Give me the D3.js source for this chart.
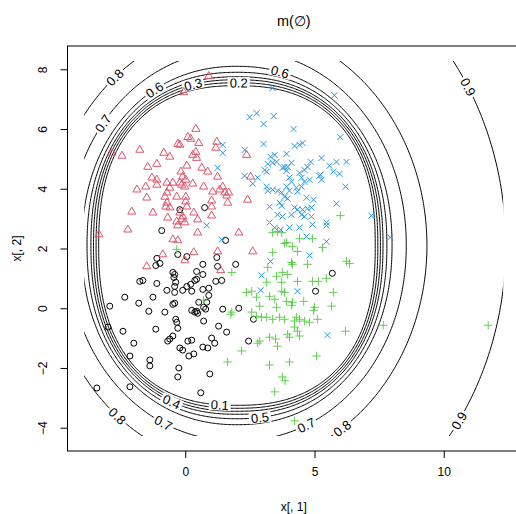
<!DOCTYPE html>
<html><head><meta charset="utf-8">
<script src="https://cdnjs.cloudflare.com/ajax/libs/d3/7.8.5/d3.min.js"></script>
<style>body{margin:0;background:#fff}svg{display:block}text{font-family:"Liberation Sans",Arial,sans-serif;fill:#000}</style>
</head><body><svg id="c" width="516" height="514"></svg>
<script>
// ---------- data ----------
const titleText = "m(\u2205)";
const xLabel = "x[, 1]";
const yLabel = "x[, 2]";
const xTicks = [0, 5, 10];
const yTicks = [-4, -2, 0, 2, 4, 6, 8];
const xLim = [-4.556, 12.95];
const yLim = [-4.78, 8.78];
const gridX = [-3.908, 12.30];
const gridY = [-4.278, 8.278];

const contourLevels = [0.1, 0.2, 0.3, 0.4, 0.5, 0.6, 0.7, 0.8, 0.9];
const contourCenter = [2.0, 2.1];
const contourHalfWidth = [5.35, 5.45, 5.55, 5.65, 5.8, 6.0, 6.55, 7.35, 10.4];
const contourShape = [2.4, 2.36, 2.32, 2.28, 2.22, 2.14, 2.05, 2.0, 2.0];
const contourLabelAngles = [[262.9], [89.3], [107.5], [244.2], [278.8], [121.5, 74], [141.7, 244.4, 294], [130, 231, 303.6], [30.7, 325.7]];

const blackPts = [[0.75,3.37],[-0.91,2.60],[1.56,2.27],[-0.21,3.30],[-0.29,1.80],[0.06,1.73],[1.22,1.70],[0.68,1.47],[-1.10,1.67],[-0.98,1.50],[-1.14,1.43],[1.95,1.47],[1.25,1.40],[-0.48,1.20],[-0.41,1.13],[-0.44,1.03],[-0.37,0.87],[-0.41,0.73],[0.44,1.23],[0.44,0.97],[0.37,0.93],[0.68,1.13],[1.18,0.90],[1.41,0.93],[-1.76,0.90],[-1.64,0.93],[-1.10,0.83],[0.06,0.73],[0.21,0.80],[-0.10,0.60],[0.25,0.57],[0.68,0.63],[0.91,0.67],[-0.71,0.60],[-0.41,0.53],[-2.34,0.37],[-1.25,0.37],[0.91,0.43],[-2.92,0.07],[-1.80,0.17],[-0.48,0.13],[-0.41,0.17],[0.52,0.20],[0.83,0.20],[-1.41,-0.10],[-0.79,-0.13],[0.25,-0.07],[0.37,-0.13],[0.44,-0.10],[0.48,-0.17],[0.71,0.03],[0.79,-0.03],[1.45,-0.03],[2.07,0.00],[-0.37,-0.37],[-0.33,-0.47],[0.71,-0.43],[2.64,-0.37],[-2.99,-0.63],[-2.41,-0.77],[-1.14,-0.70],[-0.29,-0.67],[1.29,-0.60],[1.60,-0.80],[-0.60,-1.03],[-0.48,-0.93],[-0.68,-1.10],[0.10,-1.10],[0.25,-1.07],[1.02,-1.00],[1.14,-1.17],[2.45,-1.10],[-1.99,-1.17],[-0.21,-1.33],[-0.10,-1.40],[0.68,-1.30],[0.87,-1.33],[0.14,-1.60],[0.33,-1.53],[-2.14,-1.60],[-1.37,-1.73],[-1.37,-1.93],[-0.25,-2.00],[-0.29,-2.30],[0.95,-2.20],[-3.42,-2.67],[-2.14,-2.63],[0.60,-2.83],[5.69,1.17],[5.04,0.57]];

const redPts = [[0.91,7.77],[-0.06,7.23],[0.41,6.0],[0.10,5.73],[0.21,5.67],[0.52,5.53],[-0.29,5.5],[-0.21,5.47],[-1.76,5.3],[1.22,5.57],[1.18,5.37],[-0.83,5.2],[-0.60,5.07],[-2.84,5.2],[-2.45,5.1],[0.41,5.23],[0.29,5.13],[0.44,5.03],[2.37,5.13],[-1.45,4.73],[-1.10,4.83],[0.06,4.77],[0.64,4.7],[-0.17,4.57],[0.87,4.57],[1.25,4.4],[2.53,4.4],[-1.29,4.37],[-1.10,4.3],[-1.10,4.13],[-0.10,4.4],[0.02,4.3],[-0.14,4.13],[-0.02,4.07],[-0.21,4.2],[0.29,4.17],[-1.87,3.97],[-1.53,4.07],[-0.71,4.2],[-0.48,4.2],[-0.60,4.03],[-0.71,3.87],[0.71,4.07],[1.45,4.07],[1.33,3.97],[1.53,3.87],[1.68,3.87],[1.60,3.77],[1.06,3.9],[-1.49,3.7],[-0.79,3.73],[-0.33,3.73],[0.02,3.73],[0.02,3.57],[1.02,3.6],[1.64,3.53],[2.41,3.63],[-0.71,3.53],[-0.60,3.37],[-0.75,3.4],[0.06,3.4],[1.02,3.4],[-2.07,3.23],[-1.25,3.2],[0.33,3.2],[-0.68,3.03],[-0.21,3.2],[-0.10,3.07],[-0.33,2.9],[-0.14,2.97],[-0.02,2.87],[0.48,2.97],[1.02,3.1],[-2.22,2.63],[-3.34,2.47],[-0.29,2.77],[0.48,2.53],[2.07,2.53],[-0.48,2.3],[-0.29,2.27],[-0.87,1.8],[0.33,1.87],[1.25,1.9],[2.61,1.9],[-1.49,1.4],[-0.02,1.6],[1.37,1.27]];

const greenPts = [[6.0,3.1],[4.42,2.33],[4.92,2.33],[5.31,2.03],[3.84,2.17],[4.15,2.07],[4.34,1.9],[4.11,1.53],[4.15,1.47],[4.73,1.47],[6.24,1.57],[6.35,1.5],[3.57,2.57],[3.73,2.53],[3.76,1.2],[3.96,1.13],[3.73,0.87],[4.34,0.9],[4.92,0.9],[5.15,0.9],[5.46,1.0],[3.73,0.57],[3.84,0.53],[3.92,0.23],[4.15,0.2],[4.11,0.1],[4.58,0.23],[5.0,0.03],[4.96,-0.07],[5.73,0.53],[5.66,0.07],[3.65,-0.3],[3.84,-0.37],[4.3,-0.3],[4.23,-0.43],[4.42,-0.37],[4.61,-0.43],[4.81,-0.47],[5.12,-0.37],[4.23,-0.63],[4.34,-0.77],[3.96,-0.87],[4.03,-0.97],[4.42,-0.93],[6.2,-0.77],[7.66,-0.57],[11.72,-0.57],[5.08,-1.6],[4.03,-1.8],[3.76,-2.3],[4.23,-3.77],[-0.33,1.97],[1.80,1.2],[3.19,1.37],[3.38,1.87],[3.53,1.07],[3.15,0.87],[2.37,0.53],[2.57,0.57],[2.76,0.37],[2.88,0.07],[3.26,0.4],[3.46,0.3],[3.53,0.03],[2.57,-0.13],[2.76,-0.27],[2.95,-0.3],[3.15,-0.3],[3.38,-0.37],[0.71,0.27],[1.80,-0.13],[1.76,-0.2],[2.88,-1.1],[2.80,-1.17],[3.26,-0.97],[3.49,-1.03],[3.57,-1.27],[2.18,-1.43],[1.64,-1.8],[3.26,-1.9],[3.46,-2.8],[3.38,2.53],[3.92,2.2],[3.86,-2.43]];

const bluePts = [[3.38,7.37],[5.77,7.13],[2.49,6.4],[2.76,6.53],[3.42,6.43],[3.03,6.17],[4.19,6.0],[6.0,5.73],[3.03,5.5],[1.45,5.47],[1.45,5.2],[2.30,5.3],[4.23,5.43],[4.42,5.47],[4.54,5.53],[3.92,5.17],[3.30,5.07],[3.46,5.13],[3.19,4.83],[3.38,4.87],[3.53,4.9],[3.84,4.73],[3.96,4.73],[4.11,4.87],[4.85,4.9],[5.27,5.03],[5.85,4.9],[6.24,4.9],[5.58,4.77],[5.73,4.57],[5.97,4.5],[5.23,4.47],[3.07,4.63],[3.15,4.57],[3.76,4.7],[3.92,4.6],[4.42,4.53],[4.61,4.63],[4.73,4.73],[1.25,4.7],[2.30,4.43],[2.80,4.37],[2.61,4.17],[4.03,4.37],[4.11,4.23],[4.50,4.37],[4.61,4.23],[4.81,4.3],[5.19,4.43],[5.27,4.3],[3.15,4.07],[3.19,3.93],[3.38,3.97],[3.57,3.93],[3.73,3.87],[4.30,4.03],[4.34,3.9],[4.50,4.07],[6.20,4.07],[3.92,4.07],[4.03,3.93],[4.69,3.7],[4.96,3.63],[3.84,3.73],[3.96,3.67],[3.65,3.53],[3.73,3.43],[3.26,3.4],[4.23,3.37],[4.34,3.3],[4.54,3.3],[4.73,3.33],[4.88,3.37],[4.50,3.13],[4.61,3.07],[4.88,3.07],[3.57,3.13],[3.76,3.07],[4.11,3.13],[5.85,3.5],[7.20,3.1],[3.26,2.87],[4.92,2.8],[5.46,2.87],[5.46,2.77],[3.46,2.7],[3.69,2.63],[4.03,2.7],[4.42,2.7],[4.69,2.4],[0.83,2.77],[1.41,2.3],[7.93,2.37],[5.46,2.23],[4.81,1.77],[3.30,1.57],[2.95,1.1],[2.92,0.6],[4.34,0.57],[5.50,-0.9]];

const seriesColors = ["#000000", "#DF536B", "#61D04F", "#2297E6"];

// ---------- drawing ----------
const W = 516, H = 514;
const svg = d3.select("#c");
const x = d3.scaleLinear().domain(xLim).range([67.5, 520]);
const y = d3.scaleLinear().domain(yLim).range([451, 46]);
const defs = svg.append("defs");

defs.append("clipPath").attr("id", "grid").append("rect")
  .attr("x", x(gridX[0])).attr("y", y(gridY[1]))
  .attr("width", x(gridX[1]) - x(gridX[0]))
  .attr("height", y(gridY[0]) - y(gridY[1]));
defs.append("clipPath").attr("id", "plotArea").append("rect")
  .attr("x", x(xLim[0])).attr("y", y(yLim[1]))
  .attr("width", x(xLim[1]) - x(xLim[0])).attr("height", y(yLim[0]) - y(yLim[1]));

function sePoint(i, deg) {
  const p = deg * Math.PI / 180, c = Math.cos(p), s = Math.sin(p), n = contourShape[i];
  const r = contourHalfWidth[i] / Math.pow(Math.pow(Math.abs(c), n) + Math.pow(Math.abs(s), n), 1 / n);
  return [contourCenter[0] + r * c, contourCenter[1] + r * s];
}

// labels (computed first so gaps can be masked)
const labelFont = 13;
const labelG = svg.append("g").attr("clip-path", "url(#grid)");
const mask = defs.append("mask").attr("id", "gaps").attr("maskUnits", "userSpaceOnUse")
  .attr("x", 0).attr("y", 0).attr("width", W).attr("height", H);
mask.append("rect").attr("width", W).attr("height", H).attr("fill", "white");

const labels = [];
contourLevels.forEach((lv, i) => {
  contourLabelAngles[i].forEach(a => {
    const p = sePoint(i, a), p1 = sePoint(i, a - 0.5), p2 = sePoint(i, a + 0.5);
    let ang = Math.atan2(y(p2[1]) - y(p1[1]), x(p2[0]) - x(p1[0])) * 180 / Math.PI;
    if (ang > 90) ang -= 180;
    if (ang < -90) ang += 180;
    labels.push({ px: x(p[0]), py: y(p[1]), ang, text: d3.format(".1f")(lv) });
  });
});

const lt = labelG.selectAll("text").data(labels).join("text")
  .attr("transform", d => `translate(${d.px},${d.py}) rotate(${d.ang})`)
  .attr("text-anchor", "middle").attr("dy", "0.36em")
  .style("font-size", labelFont + "px")
  .text(d => d.text);
lt.each(function (d) { d.w = this.getComputedTextLength(); });
mask.selectAll("rect.gap").data(labels).join("rect").attr("class", "gap")
  .attr("transform", d => `translate(${d.px},${d.py}) rotate(${d.ang})`)
  .attr("x", d => -d.w / 2 - 2).attr("y", -5.5).attr("width", d => d.w + 4).attr("height", 11)
  .attr("fill", "black");

// contour lines
const line = d3.line().x(d => x(d[0])).y(d => y(d[1])).curve(d3.curveLinearClosed);
const cg = svg.insert("g", "g").attr("mask", "url(#gaps)")
  .append("g").attr("clip-path", "url(#grid)");
contourLevels.forEach((lv, i) => {
  const pts = d3.range(0, 360, 0.5).map(a => sePoint(i, a));
  cg.append("path").attr("d", line(pts)).attr("fill", "none")
    .attr("stroke", "#000").attr("stroke-width", 1);
});

// points
const pg = svg.append("g").attr("clip-path", "url(#plotArea)");
pg.selectAll("circle").data(blackPts).join("circle")
  .attr("cx", d => x(d[0])).attr("cy", d => y(d[1])).attr("r", 3)
  .attr("fill", "none").attr("stroke", seriesColors[0]).attr("stroke-width", 1);
const tr = 4.66, tyc = 2.33, txc = 4.04;
pg.selectAll("path.tri").data(redPts).join("path").attr("class", "tri")
  .attr("d", d => { const cx = x(d[0]), cy = y(d[1]);
    return `M${cx},${cy - tr}L${cx + txc},${cy + tyc}L${cx - txc},${cy + tyc}Z`; })
  .attr("fill", "none").attr("stroke", seriesColors[1]).attr("stroke-width", 1);
const pl = 4.24;
pg.selectAll("path.plus").data(greenPts).join("path").attr("class", "plus")
  .attr("d", d => { const cx = x(d[0]), cy = y(d[1]);
    return `M${cx - pl},${cy}H${cx + pl}M${cx},${cy - pl}V${cy + pl}`; })
  .attr("fill", "none").attr("stroke", seriesColors[2]).attr("stroke-width", 1);
const xs = 3;
pg.selectAll("path.cross").data(bluePts).join("path").attr("class", "cross")
  .attr("d", d => { const cx = x(d[0]), cy = y(d[1]);
    return `M${cx - xs},${cy - xs}L${cx + xs},${cy + xs}M${cx - xs},${cy + xs}L${cx + xs},${cy - xs}`; })
  .attr("fill", "none").attr("stroke", seriesColors[3]).attr("stroke-width", 1);

// box
svg.append("rect").attr("x", x(xLim[0])).attr("y", y(yLim[1]))
  .attr("width", x(xLim[1]) - x(xLim[0])).attr("height", y(yLim[0]) - y(yLim[1]))
  .attr("fill", "none").attr("stroke", "#000").attr("stroke-width", 1);

// axes
const xAxis = d3.axisBottom(x).tickValues(xTicks).tickSize(7).tickSizeOuter(0).tickFormat(d3.format("d"));
const gx = svg.append("g").attr("transform", `translate(0,${y(yLim[0])})`).call(xAxis);
gx.select(".domain").remove();
gx.selectAll("text").style("font-size", "12px").style("font-family", '"Liberation Sans",Arial,sans-serif').attr("fill", "#000").attr("dy", "0.71em").attr("y", 16);
gx.selectAll("line").attr("stroke", "#000");

const yAxis = d3.axisLeft(y).tickValues(yTicks).tickSize(7).tickSizeOuter(0).tickFormat(d => d < 0 ? "\u2212" + Math.abs(d) : d);
const gy = svg.append("g").attr("transform", `translate(${x(xLim[0])},0)`).call(yAxis);
gy.select(".domain").remove();
gy.selectAll("line").attr("stroke", "#000");
gy.selectAll("text").style("font-size", "12px").style("font-family", '"Liberation Sans",Arial,sans-serif')
  .attr("fill", "#000").attr("x", null).attr("dy", null)
  .attr("text-anchor", "middle")
  .attr("transform", "translate(-20.5,0) rotate(-90)")
  .attr("dy", "0em");

// titles
svg.append("text").attr("x", (x(xLim[0]) + x(xLim[1])) / 2).attr("y", 25.5)
  .attr("text-anchor", "middle").style("font-size", "14.4px").text(titleText);
svg.append("text").attr("x", (x(xLim[0]) + x(xLim[1])) / 2).attr("y", 511)
  .attr("text-anchor", "middle").style("font-size", "12px").text(xLabel);
svg.append("text").attr("transform", `translate(21,${(y(yLim[0]) + y(yLim[1])) / 2}) rotate(-90)`)
  .attr("text-anchor", "middle").style("font-size", "12px").text(yLabel);
</script></body></html>
